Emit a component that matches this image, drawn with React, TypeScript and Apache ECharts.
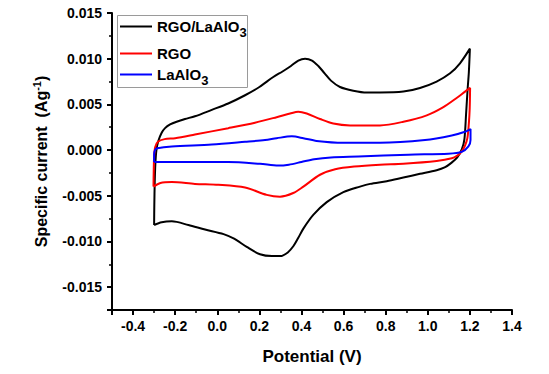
import React, { useEffect, useRef } from 'react';
import * as echarts from 'echarts';

const seriesNames = ['RGO/LaAlO3', 'RGO', 'LaAlO3'];
const legendLabels = ['{b|RGO/LaAlO}{sub|3}', '{b|RGO}', '{b|LaAlO}{sub|3}'];
const seriesColors = ['#000000', '#ff0000', '#0000ff'];

// [potential (V), specific current (A/g)] — closed CV loops
const rgoLaAlO3Loop: number[][] = [
  [-0.300, -0.0082], [-0.299, -0.0060], [-0.297, -0.0035], [-0.294, -0.0015], [-0.289, 0.0000],
  [-0.280, 0.0010], [-0.264, 0.0019], [-0.248, 0.0024], [-0.224, 0.0028], [-0.193, 0.0031],
  [-0.153, 0.0034], [-0.106, 0.0037], [-0.026, 0.0044], [0.052, 0.0051], [0.132, 0.0060],
  [0.200, 0.0069], [0.266, 0.0080], [0.310, 0.0086], [0.350, 0.0092], [0.385, 0.0098],
  [0.417, 0.0100], [0.450, 0.0098], [0.480, 0.0092], [0.510, 0.0084], [0.540, 0.0076],
  [0.583, 0.0069], [0.646, 0.0065],
  [0.710, 0.0063], [0.773, 0.0063], [0.884, 0.0064], [0.963, 0.0068], [1.042, 0.0075],
  [1.106, 0.0084], [1.153, 0.0095], [1.200, 0.0111],
  [1.195, 0.0085], [1.189, 0.0066], [1.182, 0.0040], [1.174, 0.0012], [1.162, 0.0001],
  [1.140, -0.0008], [1.112, -0.0014], [1.080, -0.0019], [1.042, -0.0022], [0.963, -0.0026],
  [0.884, -0.0030], [0.805, -0.0034], [0.726, -0.0037], [0.678, -0.0040], [0.599, -0.0046],
  [0.520, -0.0057], [0.456, -0.0071], [0.409, -0.0086], [0.385, -0.0096], [0.362, -0.0105],
  [0.335, -0.0112], [0.300, -0.0116], [0.260, -0.0116], [0.203, -0.0114], [0.140, -0.0106],
  [0.080, -0.0097], [0.030, -0.0092], [-0.058, -0.0087], [-0.137, -0.0082], [-0.216, -0.0078],
  [-0.264, -0.0079], [-0.300, -0.0082],
];

const rgoLoop: number[][] = [
  [-0.303, -0.0040], [-0.302, -0.0025], [-0.300, -0.0008], [-0.295, 0.0003], [-0.282, 0.0009],
  [-0.250, 0.0012], [-0.200, 0.0013], [-0.106, 0.0017], [0.052, 0.0024], [0.179, 0.0030],
  [0.282, 0.0036], [0.346, 0.0040], [0.385, 0.0042], [0.425, 0.0040], [0.488, 0.0034],
  [0.551, 0.0029], [0.631, 0.0027], [0.773, 0.0027], [0.884, 0.0031], [0.995, 0.0038],
  [1.074, 0.0047], [1.137, 0.0057], [1.177, 0.0064], [1.201, 0.0068],
  [1.199, 0.0045], [1.195, 0.0029], [1.188, 0.0013], [1.177, 0.0005], [1.160, -0.0002],
  [1.140, -0.0006], [1.114, -0.0009], [1.042, -0.0012], [0.884, -0.0015], [0.773, -0.0016],
  [0.650, -0.0018], [0.560, -0.0021], [0.488, -0.0027], [0.409, -0.0040], [0.361, -0.0047],
  [0.298, -0.0051], [0.235, -0.0049], [0.132, -0.0041], [0.005, -0.0038], [-0.106, -0.0037],
  [-0.216, -0.0035], [-0.270, -0.0036], [-0.303, -0.0040],
];

const laAlO3Loop: number[][] = [
  [-0.300, -0.0013], [-0.300, -0.0005], [-0.296, 0.0000], [-0.285, 0.0002], [-0.216, 0.0004],
  [-0.026, 0.0006], [0.132, 0.0009], [0.227, 0.0011], [0.282, 0.0013], [0.354, 0.0015],
  [0.409, 0.0013], [0.472, 0.0010], [0.599, 0.0008], [0.773, 0.0008], [0.987, 0.0011],
  [1.114, 0.0016], [1.177, 0.0020], [1.203, 0.0023],
  [1.203, 0.0011], [1.193, 0.0004], [1.161, -0.0002], [1.098, -0.0004], [0.908, -0.0005],
  [0.670, -0.0007], [0.540, -0.0008], [0.460, -0.0010], [0.400, -0.0013], [0.340, -0.0016],
  [0.290, -0.0017], [0.203, -0.0015], [0.052, -0.0013], [-0.185, -0.0013], [-0.296, -0.0013],
  [-0.300, -0.0013],
];

const loops = [rgoLaAlO3Loop, rgoLoop, laAlO3Loop];

export default function App() {
  const ref = useRef<HTMLDivElement>(null);
  useEffect(() => {
    if (!ref.current) return;
    const chart = echarts.init(ref.current, null, { renderer: 'svg' });
    const font = '"Liberation Sans", Arial, sans-serif';
    const legendTops = [19, 46, 67];
    const richText = {
      b: { fontFamily: font, fontSize: 15, fontWeight: 'bold', color: '#000', lineHeight: 20 },
      sub: { fontFamily: font, fontSize: 13, fontWeight: 'bold', color: '#000', lineHeight: 24, verticalAlign: 'bottom' },
    };
    const axisCommon = {
      axisLine: { show: true, onZero: false, lineStyle: { color: '#000', width: 2 } },
      axisTick: { show: true, inside: false, length: 5, lineStyle: { color: '#000', width: 2 } },
      minorTick: { show: true, splitNumber: 2, length: 3, lineStyle: { color: '#000', width: 1.5 } },
      splitLine: { show: false },
    };
    const option: any = {
      animation: false,
      backgroundColor: '#ffffff',
      grid: { left: 112, right: 37, top: 13, bottom: 64, containLabel: false },
      xAxis: {
        type: 'value',
        min: -0.5,
        max: 1.4,
        splitNumber: 9,
        ...axisCommon,
        axisLabel: {
          showMinLabel: false,
          margin: 9,
          fontFamily: font,
          fontSize: 14,
          fontWeight: 'bold',
          color: '#000',
          formatter: (v: number) => v.toFixed(1),
        },
        name: 'Potential (V)',
        nameLocation: 'middle',
        nameGap: 38,
        nameTextStyle: { fontFamily: font, fontSize: 17, fontWeight: 'bold', color: '#000' },
      },
      yAxis: {
        type: 'value',
        min: -0.0175,
        max: 0.015,
        splitNumber: 7,
        ...axisCommon,
        axisLabel: {
          showMinLabel: false,
          margin: 10,
          fontFamily: font,
          fontSize: 14,
          fontWeight: 'bold',
          color: '#000',
          formatter: (v: number) => v.toFixed(3),
        },
        name: 'Specific current  (Ag{sup|-1})',
        nameLocation: 'middle',
        nameGap: 60,
        nameTextStyle: {
          fontFamily: font,
          fontSize: 16,
          fontWeight: 'bold',
          color: '#000',
          lineHeight: 20,
          rich: {
            sup: { fontFamily: font, fontSize: 11, fontWeight: 'bold', color: '#000', lineHeight: 20, verticalAlign: 'top' },
          },
        },
      },
      legend: seriesNames.map((n, i) => ({
        data: [n],
        left: 120,
        top: legendTops[i],
        orient: 'vertical',
        padding: 0,
        icon: 'rect',
        itemWidth: 32,
        itemHeight: 2,
        itemGap: 0,
        selectedMode: false,
        formatter: () => legendLabels[i],
        textStyle: { fontFamily: font, fontSize: 15, fontWeight: 'bold', color: '#000', rich: richText },
      })),
      graphic: [
        {
          type: 'rect',
          shape: { x: 117.5, y: 15.5, width: 130, height: 72 },
          style: { fill: 'transparent', stroke: '#9a9a9a', lineWidth: 1 },
          z: 0,
        },
      ],
      series: seriesNames.map((n, i) => ({
        name: n,
        type: 'line',
        data: loops[i],
        symbol: 'none',
        smooth: 0.3,
        lineStyle: { color: seriesColors[i], width: 2 },
        itemStyle: { color: seriesColors[i] },
      })),
    };
    chart.setOption(option);
    return () => chart.dispose();
  }, []);
  return (
    <div
      ref={ref}
      style={{ position: 'absolute', left: 0, top: 0, width: 549, height: 374, background: '#fff' }}
    />
  );
}
